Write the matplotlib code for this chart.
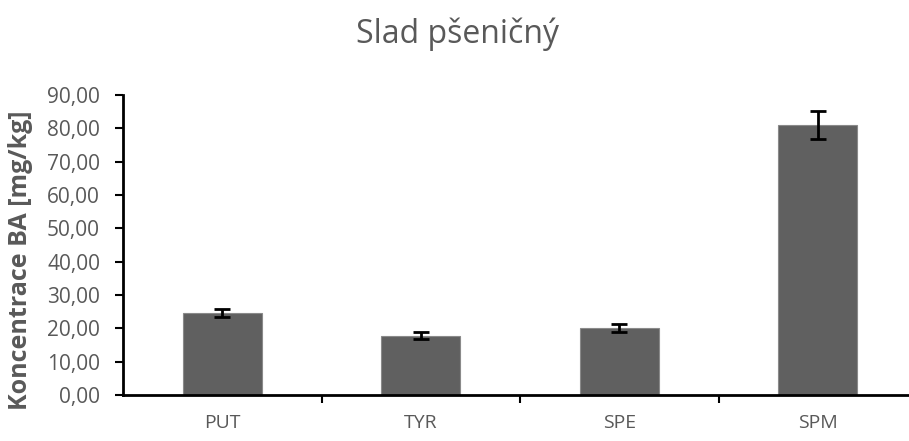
import matplotlib.pyplot as plt
import numpy as np

categories = ["PUT", "TYR", "SPE", "SPM"]
values = [24.6, 17.8, 20.2, 81.0]
errors = [1.3, 1.1, 1.2, 4.1]
yticks = [0, 10, 20, 30, 40, 50, 60, 70, 80, 90]

plt.rcParams['font.family'] = ['Open Sans', 'DejaVu Sans']

fig = plt.figure(figsize=(9.09, 4.41), dpi=100)
# axes from x=123px to ~917px, y from 395px (0) to 95px (90)
ax = fig.add_axes([123 / 909, (441 - 395) / 441, 794 / 909, 300 / 441])

x = np.arange(len(categories))
ax.bar(x, values, width=0.4, color="#606060", edgecolor="#8a8a8a", linewidth=0.8,
       yerr=errors, error_kw=dict(ecolor="black", elinewidth=2, capsize=6, capthick=2))

ax.set_xlim(-0.5, len(categories) - 0.5)
ax.set_ylim(0, 90)
ax.set_yticks(yticks)
ax.set_yticklabels([f"{v:.2f}".replace(".", ",") for v in yticks], color="#595959", fontsize=15)
ax.set_xticks(x)
ax.set_xticklabels(categories, color="#595959", fontsize=14)
ax.tick_params(axis="x", length=0, pad=14)
ax.set_xticks(np.arange(0.5, len(categories) - 0.5), minor=True)
ax.tick_params(axis="x", which="minor", length=6, width=1.5, color="black")
ax.tick_params(axis="y", length=5.5, width=1.5, color="black", pad=11)

for s in ["top", "right"]:
    ax.spines[s].set_visible(False)
for s in ["left", "bottom"]:
    ax.spines[s].set_linewidth(2)
    ax.spines[s].set_color("black")

ax.set_ylabel("Koncentrace BA [mg/kg]", fontsize=18, fontweight="bold", color="#595959")
ax.yaxis.label.set_va("center")
ax.yaxis.set_label_coords((21 - 123) / 794, (395 - 260) / 300)
fig.text(458 / 909, 1 - 43 / 441, "Slad pšeničný", fontsize=23, color="#595959", ha="center", va="baseline")

fig.savefig("out.png", dpi=100)
